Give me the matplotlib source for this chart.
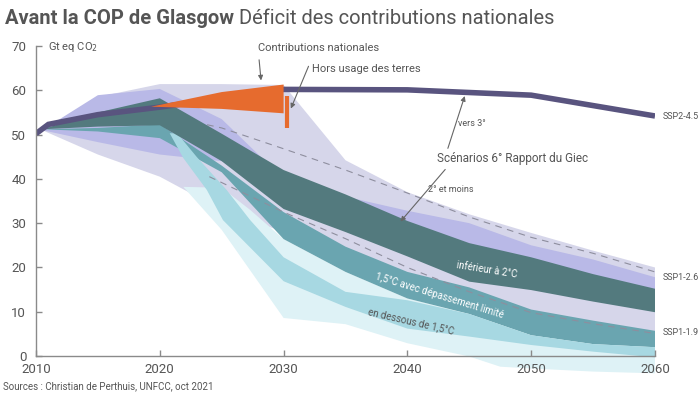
import numpy as np
import matplotlib
matplotlib.use("Agg")
import matplotlib.pyplot as plt

plt.rcParams['font.family'] = ['Roboto', 'DejaVu Sans']

# SSP2-4.5 trajectory
ssp2_years = [2010, 2011, 2015, 2020, 2025, 2030, 2040, 2050, 2060]
ssp2_vals = [50.2, 52.3, 54.5, 56.2, 58.2, 60.2, 60.1, 58.9, 54.2]

years = [2010.5, 2015, 2020, 2025, 2030, 2035, 2040, 2045, 2050, 2055, 2060]
# SSP1-2.6 outer range (light lavender)
ll_up = [51, 58.5, 61.4, 61.4, 61.2, 44.2, 37, 32, 27.8, 23.8, 20]
ll_lo = [51, 45.5, 40.5, 33, 28, 21, 15, 12, 7, 5, 4]
# SSP1-2.6 inner range (medium lavender)
ml_up = [51, 58.9, 60.3, 53.5, 40, 36, 32.8, 30, 25.0, 21.8, 17.8]
ml_lo = [51, 48.3, 45.5, 44, 36, 30, 25, 20, 17, 14, 11]
# "inférieur à 2°C" (dark teal)
dt_up = [51.2, 55, 58.2, 50.2, 42, 36.5, 30.5, 25.5, 22.3, 18.5, 15.2]
dt_lo = [51.2, 51.8, 52.1, 44, 33.2, 28, 22.5, 16.8, 14.9, 12.3, 9.9]
# "1,5°C avec dépassement limité" (teal)
te_up = [51.2, 51.5, 52.3, 43, 32.5, 24.7, 19, 15.5, 10.5, 8, 5.7]
te_lo = [51.2, 50.7, 49.2, 41.5, 26.4, 19, 13, 9.5, 4.7, 2.7, 2.0]

# SSP1-1.9 outer range (light cyan)
lc_up_x = [2021.9, 2025, 2027.3, 2030, 2035, 2040, 2045, 2050, 2055, 2060]
lc_up = [38.2, 38, 33, 26.4, 19, 13, 9.5, 4.7, 2.7, 2.0]
lc_lo_x = [2021.9, 2025, 2030, 2035, 2040, 2045, 2047.5, 2050, 2055, 2060]
lc_lo = [38.2, 28.5, 8.6, 7.2, 2.9, -0.1, -2.4, -2.8, -3.5, -3.9]

# "en dessous de 1,5°C" (medium cyan)
mc_up_x = [2020.8, 2021.4, 2023, 2025.4, 2027.3, 2030, 2035, 2040, 2045, 2050, 2055, 2060]
mc_up = [50.3, 50.3, 44.9, 37.5, 30.7, 22.3, 14.5, 12.6, 9.5, 4.7, 2.7, 2.0]
mc_lo_x = [2020.8, 2021.9, 2023.8, 2025.1, 2030, 2035, 2040, 2045, 2050, 2055, 2060]
mc_lo = [50.3, 44.7, 37.5, 30.7, 16.9, 11.1, 6.2, 4.4, 2.5, 1.0, -0.3]

# medians (dashed)
s26_x = [2019, 2025, 2030, 2035, 2040, 2045, 2050, 2055, 2060]
s26 = [55.2, 51.5, 46.8, 42, 36.8, 31.4, 26.8, 23.2, 19]
s19_x = [2024, 2030, 2035, 2040, 2045, 2050, 2055, 2060]
s19 = [40.5, 32.5, 26.5, 20, 14.5, 9.8, 7.3, 5.1]

# national contributions wedge
ndc_up_x = [2019.3, 2025, 2030]
ndc_up = [56.3, 59.6, 61.3]
ndc_lo_x = [2019.3, 2025, 2030]
ndc_lo = [56.3, 55.8, 54.8]
lulucf_x = 2030.3
lulucf = [51.5, 58.8]

fig = plt.figure(figsize=(7, 3.94), dpi=100)
ax = fig.add_axes([36/700, 1-376/394, (655-36)/700, (376-46)/394])
ax.set_xlim(2010, 2060)
ax.set_ylim(-4.5, 70)

def band(xu, yu, xl, yl, color, z):
    xs = list(xu) + list(xl)[::-1]
    ys = list(yu) + list(yl)[::-1]
    ax.fill(xs, ys, color=color, lw=0, zorder=z)

band(years, ll_up, years, ll_lo, '#d6d6ea', 1)
band(years, ml_up, years, ml_lo, '#b9b9e7', 1.1)
band(lc_up_x, lc_up, lc_lo_x, lc_lo, '#def2f6', 1.2)
band(years, te_up, years, te_lo, '#6aa5b0', 1.3)
band(mc_up_x, mc_up, mc_lo_x, mc_lo, '#a7d8e2', 1.4)

ax.plot(s26_x, s26, color='#8e8e9e', lw=0.8, dashes=(6, 5), zorder=1.5)
ax.plot(s19_x, s19, color='#8e8e9e', lw=0.8, dashes=(6, 5), zorder=1.5)

band(years, dt_up, years, dt_lo, '#537a7e', 1.6)

ax.plot(ssp2_years, ssp2_vals, color='#59547f', lw=4, solid_capstyle='butt',
        solid_joinstyle='miter', zorder=2)

band(ndc_up_x, ndc_up, ndc_lo_x, ndc_lo, '#e66b2e', 3)
ax.vlines(lulucf_x, lulucf[0], lulucf[1], color='#e66b2e', lw=3, zorder=3)

# axes styling
for s in ['top', 'right']:
    ax.spines[s].set_visible(False)
ax.spines['bottom'].set_position(('data', 0))
ax.spines['left'].set_bounds(0, 70)
ax.spines['bottom'].set_bounds(2010, 2060)
for s in ['left', 'bottom']:
    ax.spines[s].set_color('#8a8a8a')
    ax.spines[s].set_linewidth(1)
    ax.spines[s].set_zorder(4)
ax.set_yticks(range(0, 71, 10))
ax.set_xticks(range(2010, 2061, 10))
ax.tick_params(direction='in', length=4, width=1, color='#8a8a8a', labelcolor='#555555', labelsize=9.5)
ax.tick_params(axis='y', pad=7)
ax.tick_params(axis='x', pad=5)

ax.text(2011, 69.8, 'Gt eq CO$_2$', fontsize=8, color='#555555', va='center')

tc = '#555555'
arrow = dict(arrowstyle='-|>', color='#666666', lw=0.8, mutation_scale=7)
ax.text(2032.8, 69.5, 'Contributions nationales', fontsize=8, color=tc, ha='center', va='center')
ax.annotate('', xy=(2028.2, 61.6), xytext=(2028.0, 67.5), arrowprops=arrow)
ax.text(2036.7, 64.8, 'Hors usage des terres', fontsize=8, color=tc, ha='center', va='center')
ax.annotate('', xy=(2030.5, 55.3), xytext=(2032.1, 66.0), arrowprops=arrow)
ax.text(2044.1, 52.6, 'vers 3°', fontsize=6.5, color=tc, ha='left', va='center')
ax.text(2048.5, 44.5, 'Scénarios 6° Rapport du Giec', fontsize=8.5, color=tc, ha='center', va='center')
ax.text(2043.5, 37.5, '2° et moins', fontsize=6.5, color=tc, ha='center', va='center')
ax.annotate('', xy=(2044.7, 59.3), xytext=(2043.2, 46.3), arrowprops=arrow)
ax.annotate('', xy=(2039.3, 29.9), xytext=(2043.2, 42.6), arrowprops=arrow)

ax.text(2046.4, 19.4, 'inférieur à 2°C', fontsize=7, color='white', ha='center', va='center', rotation=-9, zorder=5)
ax.text(2042.6, 13.5, '1,5°C avec dépassement limité', fontsize=7, color='white', ha='center', va='center', rotation=-17, zorder=5)
ax.text(2040.3, 7.9, 'en dessous de 1,5°C', fontsize=7, color='#555555', ha='center', va='center', rotation=-13, zorder=5)

ax.text(2060.65, 54.0, 'SSP2-4.5', fontsize=6.5, color=tc, va='center', clip_on=False)
ax.text(2060.65, 17.8, 'SSP1-2.6', fontsize=6.5, color=tc, va='center', clip_on=False)
ax.text(2060.65, 5.4, 'SSP1-1.9', fontsize=6.5, color=tc, va='center', clip_on=False)

t1 = fig.text(5/700, 1-18/394, 'Avant la COP de Glasgow', fontsize=14.5, fontweight='bold', color='#555555', va='center')
fig.canvas.draw()
bb = t1.get_window_extent()
fig.text(bb.x1/700 + 5/700, 1-18/394, 'Déficit des contributions nationales', fontsize=14.5, color='#555555', va='center')

fig.text(3/700, 1-386/394, 'Sources : Christian de Perthuis, UNFCC, oct 2021', fontsize=7, color='#555555', va='center')

fig.savefig('out.png', dpi=100)
